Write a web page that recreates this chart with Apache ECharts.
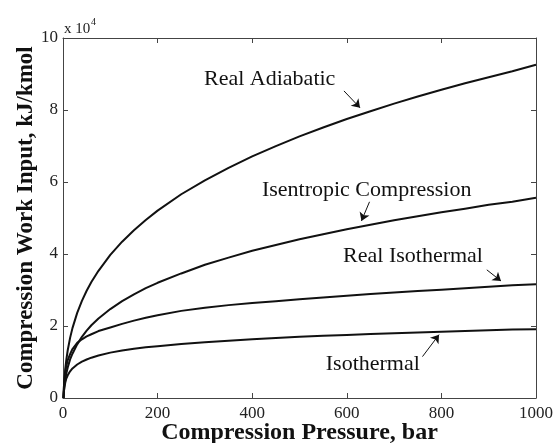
<!DOCTYPE html>
<html>
<head>
<meta charset="utf-8">
<script src="https://cdn.jsdelivr.net/npm/echarts@6/dist/echarts.min.js"></script>
<style>
  html, body { margin: 0; padding: 0; background: #fff; }
  #chart { width: 556px; height: 443px; }
</style>
</head>
<body>
<div id="chart"></div>
<script>
// Compression pressure (bar)
const pressure = [1, 2, 3, 5, 7, 10, 15, 20, 30, 40, 50, 60, 75, 100, 125, 150, 175, 200, 250, 300, 350, 400, 450, 500, 550, 600, 650, 700, 750, 800, 850, 900, 950, 1000];

// Compression work input (kJ/kmol) for each process
const realAdiabatic = [0, 3080, 5200, 8280, 10570, 13260, 16700, 19410, 23640, 26980, 29780, 32210, 35330, 39740, 43420, 46600, 49430, 52040, 56600, 60460, 63930, 67110, 69980, 72680, 75150, 77500, 79670, 81780, 83750, 85630, 87410, 89120, 90750, 92550];
const isentropic = [0, 2000, 3400, 5300, 6800, 8500, 10700, 12300, 14900, 17000, 18700, 20200, 22100, 24700, 26900, 28800, 30500, 32000, 34600, 37000, 39000, 40900, 42500, 44100, 45500, 46900, 48100, 49400, 50500, 51600, 52600, 53700, 54500, 55600];
const realIsothermal = [0, 3200, 5000, 7400, 8900, 10500, 12200, 13600, 15300, 16300, 17100, 17700, 18600, 19600, 20600, 21500, 22300, 23000, 24200, 25100, 25800, 26400, 26900, 27400, 27900, 28400, 28900, 29300, 29700, 30100, 30500, 30900, 31300, 31600];
const isothermal = [0, 1900, 3000, 4400, 5400, 6300, 7400, 8200, 9300, 10100, 10700, 11200, 11800, 12600, 13200, 13700, 14100, 14400, 15000, 15500, 15900, 16300, 16700, 17000, 17300, 17500, 17800, 18000, 18200, 18400, 18600, 18800, 19000, 19100];

const curveNames = ['Real Adiabatic', 'Isentropic Compression', 'Real Isothermal', 'Isothermal'];
const curveValues = [realAdiabatic, isentropic, realIsothermal, isothermal];

// x-axis and y-axis tick settings
const xTicks = { min: 0, max: 1000, interval: 200 };
const yTicks = { min: 0, max: 100000, interval: 20000 };

// Annotation text centres [pressure, work]
const labelAnchors = [[437, 88500], [642, 57800], [740, 39400], [655, 9400]];
// Arrow tails and tips [pressure, work]
const arrowTails = [[594, 85300], [648, 54500], [896, 35600], [760, 11500]];
const arrowTips = [[628, 80600], [631, 49200], [926, 32500], [795, 17600]];

const serif = 'Liberation Serif, Times New Roman, serif';
const ink = '#111';
const frame = '#444';

const chart = echarts.init(document.getElementById('chart'), null, { renderer: 'canvas' });

const series = curveNames.map((name, k) => ({
  name: name,
  type: 'line',
  xAxisIndex: 0,
  yAxisIndex: 0,
  data: pressure.map((p, i) => [p, curveValues[k][i]]),
  showSymbol: false,
  smooth: false,
  lineStyle: { color: ink, width: 2, join: 'round' },
  silent: true,
  markPoint: {
    symbol: 'rect',
    symbolSize: 1,
    itemStyle: { color: 'rgba(0,0,0,0)' },
    label: {
      show: true,
      position: 'inside',
      formatter: name,
      color: ink,
      fontFamily: serif,
      fontSize: 22
    },
    data: [{ coord: labelAnchors[k] }]
  },
  markLine: {
    silent: true,
    symbol: ['none', 'arrow'],
    symbolSize: 8,
    lineStyle: { color: ink, width: 1, type: 'solid' },
    label: { show: false },
    data: [[{ coord: arrowTails[k] }, { coord: arrowTips[k] }]]
  }
}));

const tickCommon = { show: true, inside: true, length: 5, lineStyle: { color: frame, width: 1 } };
const lineCommon = { show: true, onZero: false, lineStyle: { color: frame, width: 1 } };

chart.setOption({
  animation: false,
  backgroundColor: '#fff',
  grid: { left: 63, right: 20, top: 38, bottom: 45, containLabel: false, outerBoundsMode: 'none' },
  xAxis: [
    {
      type: 'value', position: 'bottom',
      min: xTicks.min, max: xTicks.max, interval: xTicks.interval,
      axisLine: lineCommon, axisTick: tickCommon, splitLine: { show: false },
      axisLabel: { color: '#222', fontFamily: serif, fontSize: 17, margin: 7, formatter: v => String(v) },
      name: 'Compression Pressure, bar',
      nameLocation: 'middle', nameGap: 23, nameMoveOverlap: false,
      nameTextStyle: { color: ink, fontFamily: serif, fontSize: 24, fontWeight: 'bold' }
    },
    {
      type: 'value', position: 'top',
      min: xTicks.min, max: xTicks.max, interval: xTicks.interval,
      axisLine: lineCommon, axisTick: tickCommon, splitLine: { show: false },
      axisLabel: { show: false }
    }
  ],
  yAxis: [
    {
      type: 'value', position: 'left',
      min: yTicks.min, max: yTicks.max, interval: yTicks.interval,
      axisLine: lineCommon, axisTick: tickCommon, splitLine: { show: false },
      axisLabel: {
        color: '#222', fontFamily: serif, fontSize: 17, margin: 5,
        formatter: v => String(v / 10000)
      },
      name: 'Compression Work Input, kJ/kmol',
      nameLocation: 'middle', nameGap: 25, nameRotate: 90, nameMoveOverlap: false,
      nameTextStyle: { color: ink, fontFamily: serif, fontSize: 23, fontWeight: 'bold' }
    },
    {
      type: 'value', position: 'right',
      min: yTicks.min, max: yTicks.max, interval: yTicks.interval,
      axisLine: lineCommon, axisTick: tickCommon, splitLine: { show: false },
      axisLabel: { show: false }
    }
  ],
  graphic: [
    {
      type: 'text', left: 64, top: 22, silent: true,
      style: { text: 'x 10', fill: '#222', font: '15px ' + serif }
    },
    {
      type: 'text', left: 91, top: 17, silent: true,
      style: { text: '4', fill: '#222', font: '10px ' + serif }
    }
  ],
  series: series
});
</script>
</body>
</html>
